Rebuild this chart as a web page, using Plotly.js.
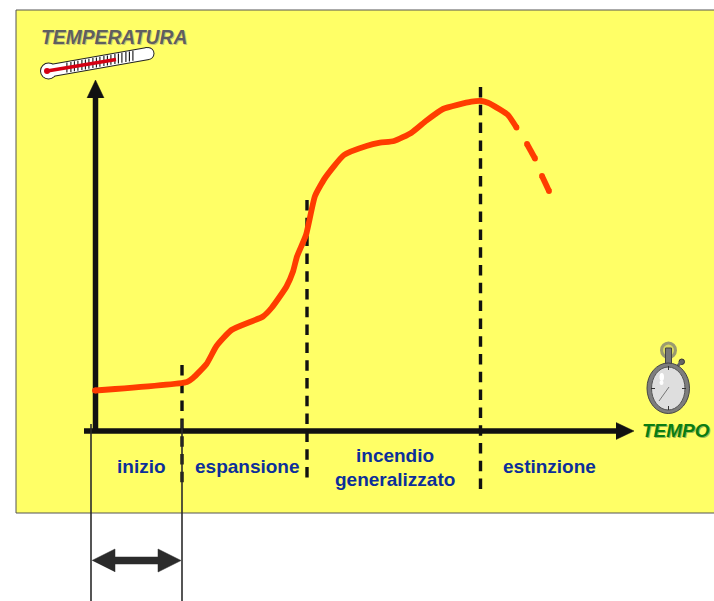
<!DOCTYPE html>
<html><head><meta charset="utf-8">
<script src="https://cdn.plot.ly/plotly-3.0.1.min.js"></script>
<style>html,body{margin:0;padding:0;background:#fff}#c{width:714px;height:601px}</style>
</head><body><div id="c"></div>
<script>
const FONT = '"Liberation Sans", Arial, sans-serif';
// Temperature curve (solid part)
const curveX = [95,187,193,206.5,216.5,231.5,263,271.5,286.5,293,297,306,315,325,344,366.5,380,394,411.5,425,443,471.5,481.5,488,500,508,516.5];
const curveY = [390.5,382,378,364,346,330,316.5,308,286.5,271.5,256.5,235,196,178,155,146,142.7,141,132.7,121.7,109,101.7,101,102.7,109.5,115,127.5];
// Decline (dashed part): separate strokes
const declineX = [527,535,null,542,549];
const declineY = [144,158.5,null,176,191];
// Phase boundaries
const phaseX = [182,307,480.5];
const phaseTop = [365,200,87];
const phaseBottom = [483,479,490];
// Phase labels
const phaseLabels = ['inizio','espansione','incendio','generalizzato','estinzione'];
const labelX = [141.5,247,395,395,549.5];
const labelY = [466,466,455,479.5,466];
// Axes
const yAxisX = [95.5,95.5]; const yAxisY = [431,95];
const xAxisX = [84,620]; const xAxisY = [431,431];
const yHeadX = [87,95.5,104]; const yHeadY = [98,80,98];
const xHeadX = [616,634,616]; const xHeadY = [422.5,431,439.5];
// Duration bracket
const spanX = [91,182];
const spanTop = [424,420];
const spanBottom = [601,601];
const dblX = [92,115,115,158,158,181,158,158,115,115];
const dblY = [560.5,549,557,557,549,560.5,572,564,564,572];
// Thermometer
const thermoX = [48.5,148]; const thermoY = [71,53.5];
const mercuryX = [47,116]; const mercuryY = [71,59.5];
const tickCX = [66,70,73.5,77,81,84.5,88,92,95.5,99,103,106.5,110,114,117.5,121,125,128.5,132];
const tickCY = [67.6,67,66.3,65.7,65,64.4,63.8,63,62.5,61.8,61,60.5,59.8,59,58.4,57.8,57,56.4,55.8];
const tickDX = [0.9,0.9]; const tickDY = [-5,5];
// Stopwatch
const handX = [669,659]; const handY = [387,401];
const watchTickX = [668.5,668.5,null,686,682,null,668.5,668.5,null,651,655];
const watchTickY = [366,370,null,388.5,388.5,null,406,410,null,388.5,388.5];

const traces = [];
function line(x,y,color,width,dash,shape){traces.push({x:x,y:y,mode:'lines',type:'scatter',hoverinfo:'skip',
  line:{color:color,width:width,dash:dash||'solid',simplify:false,shape:shape||'linear',smoothing:0.5},connectgaps:false});}
function poly(x,y,color){traces.push({x:x,y:y,mode:'lines',type:'scatter',fill:'toself',fillcolor:color,hoverinfo:'skip',line:{color:color,width:0.5}});}
function dots(x,y,color,size){traces.push({x:x,y:y,mode:'markers',type:'scatter',hoverinfo:'skip',
  marker:{color:color,size:size,line:{width:0}}});}

// thermometer
line(thermoX,thermoY,'#222',13); dots([thermoX[1]],[thermoY[1]],'#222',13); dots([thermoX[0]],[thermoY[0]],'#222',17);
line(thermoX,thermoY,'#fff',11); dots([thermoX[1]],[thermoY[1]],'#fff',11); dots([thermoX[0]],[thermoY[0]],'#fff',15);
const tx=[],ty=[]; tickCX.forEach((c,i)=>{tx.push(c+tickDX[0],c+tickDX[1],null);ty.push(tickCY[i]+tickDY[0],tickCY[i]+tickDY[1],null);});
line(tx,ty,'#111',1.1);
line(mercuryX,mercuryY,'#d40012',3.6); dots([mercuryX[0]],[mercuryY[0]],'#d40012',6);

// axes
line(yAxisX,yAxisY,'#111',5.5); poly(yHeadX,yHeadY,'#111');
line(xAxisX,xAxisY,'#111',5.5); poly(xHeadX,xHeadY,'#111');

// phases
phaseX.forEach((p,i)=>line([p,p],[phaseTop[i],phaseBottom[i]],'#111',3.4,'10.5px,7.3px'));

// curve
line(curveX,curveY,'#ff3c00',5.8,'solid','spline');
dots([curveX[0],curveX[curveX.length-1]],[curveY[0],curveY[curveY.length-1]],'#ff3c00',5.8);
line(declineX,declineY,'#ff3c00',5.8);
dots(declineX.filter(v=>v!==null),declineY.filter(v=>v!==null),'#ff3c00',5.8);

// span lines
spanX.forEach((s,i)=>line([s,s],[spanTop[i],spanBottom[i]],'#2b2b2b',1.6));
poly(dblX,dblY,'#2b2b2b');

const annotations = phaseLabels.map((t,i)=>({x:labelX[i],y:labelY[i],text:'<b>'+t+'</b>',showarrow:false,xanchor:'center',yanchor:'middle',
  font:{family:FONT,size:19,color:'#0c2f9a'}}));
annotations.push({x:114,y:37,text:'<b><i>TEMPERATURA</i></b>',showarrow:false,xanchor:'center',yanchor:'middle',
  font:{family:FONT,size:19.3,color:'#5f5f5f',shadow:'1px 1px 0 #c8c870'}});
annotations.push({x:676,y:430,text:'<b><i>TEMPO</i></b>',showarrow:false,xanchor:'center',yanchor:'middle',
  font:{family:FONT,size:19,color:'#0a7d12',shadow:'1px 1px 0 #a0b850'}});

const shapes = [
  {type:'rect',layer:'below',xref:'x',yref:'y',x0:16,x1:720,y0:10,y1:513,fillcolor:'#ffff66',line:{color:'#555',width:1}},
  // crown
  {type:'circle',xref:'x',yref:'y',x0:661.5,x1:675.5,y0:343,y1:357.5,fillcolor:'#d8d860',line:{color:'#9a9a70',width:3}},
  {type:'rect',xref:'x',yref:'y',x0:665.5,x1:671.5,y0:348,y1:364,fillcolor:'#777',line:{color:'#444',width:1}},
  {type:'circle',xref:'x',yref:'y',x0:679,x1:684.5,y0:359,y1:364.5,fillcolor:'#666',line:{color:'#333',width:1}},
  {type:'line',xref:'x',yref:'y',x0:677,y0:367,x1:681,y1:362,line:{color:'#666',width:3}},
  // case
  {type:'circle',xref:'x',yref:'y',x0:647,x1:689.5,y0:363,y1:413.5,fillcolor:'#7d7d7d',line:{color:'#444',width:1}},
  {type:'circle',xref:'x',yref:'y',x0:651.5,x1:685,y0:367,y1:410,fillcolor:'#dedede',line:{color:'#555',width:1}},
  {type:'circle',xref:'x',yref:'y',x0:659.5,x1:664,y0:373,y1:381,fillcolor:'#ffffff',line:{width:0}},
  {type:'circle',xref:'x',yref:'y',x0:659.5,x1:663.5,y0:380.5,y1:385,fillcolor:'#ffffff',line:{width:0}},
  {type:'line',xref:'x',yref:'y',x0:handX[0],x1:handX[1],y0:handY[0],y1:handY[1],line:{color:'#777',width:1}}
];
for(let i=0;i<watchTickX.length;i+=3){
  shapes.push({type:'line',xref:'x',yref:'y',x0:watchTickX[i],x1:watchTickX[i+1],y0:watchTickY[i],y1:watchTickY[i+1],line:{color:'#333',width:1}});
}

Plotly.newPlot('c',traces,{
  width:714,height:601,margin:{l:0,r:0,t:0,b:0},showlegend:false,hovermode:false,
  paper_bgcolor:'#fff',plot_bgcolor:'rgba(0,0,0,0)',
  xaxis:{range:[0,714],visible:false,fixedrange:true},
  yaxis:{range:[601,0],visible:false,fixedrange:true},
  shapes:shapes,annotations:annotations
},{displayModeBar:false,staticPlot:true});
</script></body></html>
